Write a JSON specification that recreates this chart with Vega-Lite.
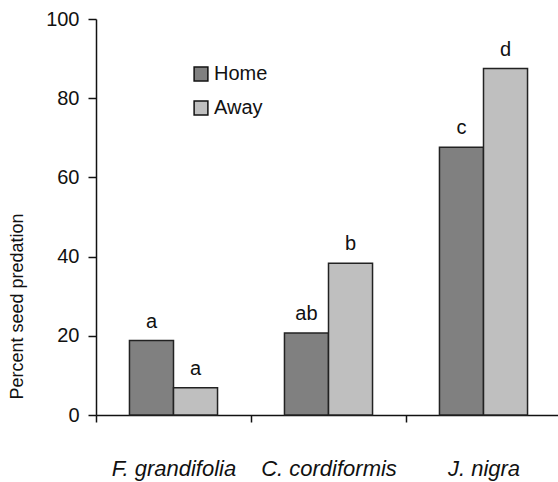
{
  "$schema": "https://vega.github.io/schema/vega-lite/v6.json",
  "width": 465,
  "height": 396,
  "autosize": {"type": "none"},
  "padding": {"left": 96, "top": 19, "right": 0, "bottom": 67},
  "background": "white",
  "config": {
    "view": {"stroke": null},
    "font": "Liberation Sans",
    "axis": {"domainColor": "#111", "tickColor": "#111", "labelColor": "#111", "titleColor": "#111", "domainWidth": 1.5, "tickWidth": 1.5, "grid": false}
  },
  "data": {
    "values": [
      {"species": "F. grandifolia", "site": "Home", "predation": 18.8, "letter": "a"},
      {"species": "F. grandifolia", "site": "Away", "predation": 6.9, "letter": "a"},
      {"species": "C. cordiformis", "site": "Home", "predation": 20.7, "letter": "ab"},
      {"species": "C. cordiformis", "site": "Away", "predation": 38.3, "letter": "b"},
      {"species": "J. nigra", "site": "Home", "predation": 67.6, "letter": "c"},
      {"species": "J. nigra", "site": "Away", "predation": 87.5, "letter": "d"}
    ]
  },
  "encoding": {
    "x": {
      "field": "species",
      "type": "nominal",
      "sort": null,
      "scale": {"paddingInner": 0, "paddingOuter": 0},
      "axis": {"title": null, "labelAngle": 0, "tickBand": "extent", "tickSize": 7, "labelFontStyle": "italic", "labelFontSize": 22, "labelPadding": 36}
    },
    "xOffset": {
      "field": "site",
      "type": "nominal",
      "sort": ["Home", "Away"],
      "scale": {"paddingInner": 0, "paddingOuter": 0.76}
    },
    "y": {
      "field": "predation",
      "type": "quantitative",
      "scale": {"domain": [0, 100]},
      "axis": {"title": "Percent seed predation", "values": [0, 20, 40, 60, 80, 100], "tickSize": 8, "labelFontSize": 20, "labelPadding": 9, "titleFontSize": 18, "titleFontWeight": "normal", "titleX": -70, "titleY": 287}
    }
  },
  "layer": [
    {
      "mark": {"type": "bar", "stroke": "#222", "strokeWidth": 1.5},
      "encoding": {
        "color": {
          "field": "site",
          "type": "nominal",
          "sort": ["Home", "Away"],
          "scale": {"domain": ["Home", "Away"], "range": ["#808080", "#bfbfbf"]},
          "legend": {"title": null, "orient": "none", "legendX": 95, "legendY": 45, "symbolType": "square", "symbolSize": 190, "symbolStrokeColor": "#111", "symbolStrokeWidth": 1.5, "symbolOpacity": 1, "labelFontSize": 20, "labelColor": "#111", "labelOffset": 3, "rowPadding": 14}
        }
      }
    },
    {
      "mark": {"type": "text", "baseline": "alphabetic", "dy": -13, "fontSize": 20, "color": "#111"},
      "encoding": {"text": {"field": "letter"}}
    }
  ]
}
